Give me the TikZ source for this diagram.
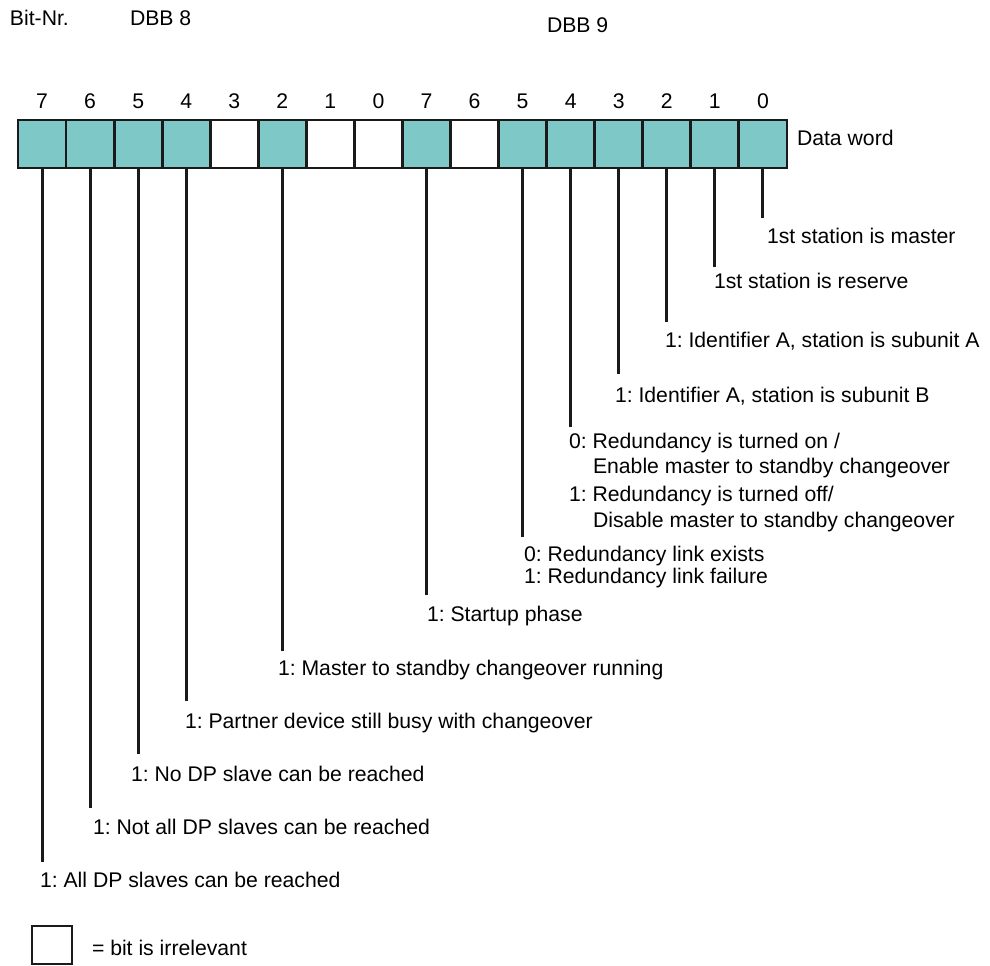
\documentclass[tikz,border=0pt]{standalone}
\usepackage{fontspec}
\setmainfont{Liberation Sans}
\frenchspacing
\definecolor{cellteal}{RGB}{127,200,200}
\definecolor{ink}{RGB}{26,26,26}
\begin{document}
\begin{tikzpicture}[x=0.5pt,y=-0.5pt,
  every node/.style={inner sep=0pt, outer sep=0pt, text=black,
    font=\fontsize{10.6}{12}\selectfont\frenchspacing},
  bitcell/.style={draw=ink, line width=1.4pt, minimum size=24pt},
  used/.style={bitcell, fill=cellteal},
  unused/.style={bitcell, fill=white},
  stem/.style={draw=ink, line width=1.5pt},
  lbl/.style={anchor=base west},
  bitno/.style={anchor=base}]
\useasboundingbox (0,0) rectangle (990,965);

% header
\node[lbl] (bitnr) at (10,25) {Bit-Nr.};
\node[lbl] (dbb8) at (130,25) {DBB 8};
\node[lbl] (dbb9) at (547,32) {DBB 9};

% the data word: DBB 8 (a7..a0) followed by DBB 9 (b7..b0)
\foreach \nm/\bit/\sty [count=\i from 0] in
  {a7/7/used, a6/6/used, a5/5/used, a4/4/used, a3/3/unused, a2/2/used,
   a1/1/unused, a0/0/unused, b7/7/used, b6/6/unused, b5/5/used, b4/4/used,
   b3/3/used, b2/2/used, b1/1/used, b0/0/used}{
  \node[\sty] (\nm) at ({42.03+48.06*\i},144) {};
  \node[bitno] (n\nm) at ({42.03+48.06*\i},108) {\bit};
}
\node[lbl] (dataword) at (797,145) {Data word};

% bit meanings
\node[lbl] (l0) at (767,243) {1st station is master};
\node[lbl] (l1) at (714,288) {1st station is reserve};
\node[lbl] (l2) at (665,347) {1: Identifier A, station is subunit A};
\node[lbl] (l3) at (615,402) {1: Identifier A, station is subunit B};
\node[lbl] (l4a) at (569,448) {0: Redundancy is turned on /};
\node[lbl] (l4b) at (593,473) {Enable master to standby changeover};
\node[lbl] (l4c) at (569,501) {1: Redundancy is turned off/};
\node[lbl] (l4d) at (593,527) {Disable master to standby changeover};
\node[lbl] (l5a) at (524,561) {0: Redundancy link exists};
\node[lbl] (l5b) at (524,583) {1: Redundancy link failure};
\node[lbl] (l7) at (427,621) {1: Startup phase};
\node[lbl] (m2) at (278,675) {1: Master to standby changeover running};
\node[lbl] (m4) at (185,728) {1: Partner device still busy with changeover};
\node[lbl] (m5) at (131,781) {1: No DP slave can be reached};
\node[lbl] (m6) at (93,834) {1: Not all DP slaves can be reached};
\node[lbl] (m7) at (40,887) {1: All DP slaves can be reached};

% stems from the bits down to their meanings
\draw[stem] (b0.south) -- ++(0,50)  coordinate (eb0);
\draw[stem] (b1.south) -- ++(0,99)  coordinate (eb1);
\draw[stem] (b2.south) -- ++(0,154) coordinate (eb2);
\draw[stem] (b3.south) -- ++(0,206) coordinate (eb3);
\draw[stem] (b4.south) -- ++(0,259) coordinate (eb4);
\draw[stem] (b5.south) -- ++(0,369) coordinate (eb5);
\draw[stem] (b7.south) -- ++(0,427) coordinate (eb7);
\draw[stem] (a2.south) -- ++(0,483) coordinate (ea2);
\draw[stem] (a4.south) -- ++(0,533) coordinate (ea4);
\draw[stem] (a5.south) -- ++(0,586) coordinate (ea5);
\draw[stem] (a6.south) -- ++(0,640) coordinate (ea6);
\draw[stem] (a7.south) -- ++(0,694) coordinate (ea7);

% legend
\node[draw=ink, line width=1pt, fill=white, minimum width=20pt, minimum height=19pt]
  (key) at (52,945) {};
\node[lbl] (keytext) at (92,955) {= bit is irrelevant};
\end{tikzpicture}
\end{document}
